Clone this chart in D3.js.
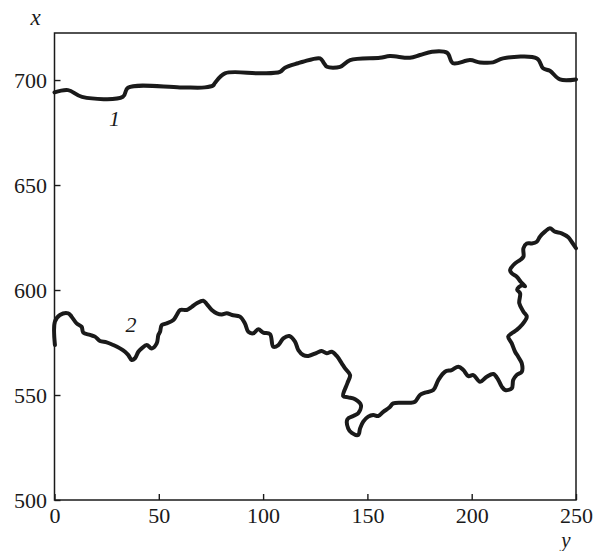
<!DOCTYPE html>
<html>
<head>
<meta charset="utf-8">
<script src="https://cdn.jsdelivr.net/npm/d3@7"></script>
<style>
  html, body { margin: 0; padding: 0; background: #fff; }
  svg { display: block; }
  text { font-family: "Liberation Serif", "DejaVu Serif", serif; fill: #1a1a1a; }
</style>
</head>
<body>
<svg id="chart" width="595" height="551"></svg>
<script>
// ---- data (horizontal variable "y", vertical variable "x") ----
const yTicks = [0, 50, 100, 150, 200, 250];
const xTicks = [500, 550, 600, 650, 700];

// curve 1
const curve1Y = [0, 6.5, 13.2, 32.8, 35.2, 60.2, 72.1, 76.0, 76.9, 81.7, 98.5, 108.1, 110.5, 116.7, 119.1, 127.3, 129.2, 130.6, 136.9, 141.7, 156.0, 160.8, 170.4, 175.2, 181.0, 188.2, 191.0, 199.2, 204.0, 210.2, 215.0, 231.3, 234.2, 237.5, 242.3, 250];
const curve1X = [694.1, 695.2, 692.0, 692.0, 696.3, 696.5, 696.5, 697.4, 698.6, 703.2, 703.2, 703.9, 705.9, 708.0, 708.7, 710.3, 708.0, 706.3, 706.3, 709.5, 710.6, 711.4, 710.6, 711.9, 713.5, 713.0, 708.0, 709.5, 708.4, 708.4, 710.3, 710.3, 705.6, 704.4, 700.3, 700.3];

// curve 2
const curve2Y = [0.2, 0.2, 2.6, 6.6, 8.2, 10.6, 13.0, 13.8, 17.0, 19.4, 21.8, 25.0, 28.2, 31.4, 33.8, 35.4, 37.0, 38.6, 40.2, 41.8, 44.2, 46.6, 49.0, 49.8, 50.6, 51.4, 53.8, 57.0, 58.6, 60.2, 63.4, 65.8, 68.2, 71.3, 73.0, 75.4, 77.8, 80.2, 82.6, 85.1, 88.9, 91.3, 92.9, 95.3, 97.7, 100.1, 103.3, 104.9, 107.3, 109.7, 112.6, 115.3, 116.9, 119.3, 121.7, 125.7, 128.1, 130.5, 132.9, 135.3, 137.7, 139.3, 141.7, 140.4, 138.4, 140.8, 144.1, 146.9, 145.6, 143.2, 140.4, 140.8, 142.5, 145.6, 146.5, 148.0, 150.4, 152.8, 155.2, 157.6, 160.5, 162.4, 167.2, 170.4, 172.8, 175.2, 177.6, 181.6, 184.0, 187.2, 190.4, 193.6, 196.0, 198.4, 200.8, 204.0, 207.2, 210.4, 212.8, 214.4, 216.0, 219.2, 219.9, 221.5, 224.0, 224.0, 222.3, 220.8, 219.2, 217.5, 219.2, 221.6, 224.0, 226.4, 224.8, 222.8, 223.2, 221.8, 224.0, 225.6, 223.6, 221.6, 219.2, 218.4, 220.8, 223.2, 224.8, 224.8, 226.4, 228.8, 231.2, 232.7, 235.1, 237.5, 239.9, 243.1, 246.3, 247.9, 250];
const curve2X = [573.8, 584.9, 588.1, 588.9, 587.3, 584.1, 582.5, 579.7, 578.6, 577.8, 575.7, 575.1, 573.8, 572.2, 570.6, 569.0, 566.7, 567.5, 570.6, 572.2, 573.8, 572.2, 574.6, 578.6, 580.1, 583.3, 584.1, 585.7, 588.1, 590.5, 590.5, 592.0, 593.7, 594.9, 593.3, 590.5, 588.9, 588.4, 588.9, 588.1, 587.3, 584.1, 580.1, 579.4, 581.3, 579.7, 579.0, 573.0, 573.8, 577.0, 578.1, 575.4, 571.4, 569.0, 568.6, 570.1, 571.0, 569.9, 570.6, 568.6, 565.1, 562.7, 559.5, 555.6, 549.5, 548.9, 548.0, 545.2, 541.3, 540.0, 538.4, 534.1, 532.0, 531.0, 534.1, 537.3, 539.7, 540.5, 540.0, 542.0, 544.0, 546.0, 546.3, 546.3, 546.8, 550.0, 551.1, 552.4, 557.1, 561.1, 561.9, 563.5, 561.9, 559.0, 559.5, 556.3, 558.7, 560.0, 557.1, 554.0, 552.4, 553.2, 557.1, 559.5, 561.1, 565.1, 568.2, 570.6, 574.6, 577.8, 579.4, 581.0, 583.3, 587.3, 589.7, 593.7, 598.4, 600.2, 602.2, 601.8, 603.8, 606.3, 608.0, 609.5, 612.7, 614.3, 615.9, 619.9, 622.2, 622.2, 623.0, 625.4, 627.8, 629.4, 627.8, 627.0, 625.1, 623.0, 619.9];

const curveLabels = ["1", "2"];
const labelY = [28.8, 36.7];
const labelX = [677.9, 580.1];

// ---- drawing ----
const svg = d3.select("#chart");
const mLeft = 54.5, mRight = 576, mTop = 33, mBottom = 500;

const sx = d3.scaleLinear().domain([0, 250]).range([mLeft, mRight]);
const sv = d3.scaleLinear().domain([500, 722.4]).range([mBottom, mTop]);

const ink = "#1a1a1a";

// bottom axis
const gB = svg.append("g").attr("transform", `translate(0,${mBottom})`)
  .call(d3.axisBottom(sx).tickValues(yTicks).tickSizeInner(-6).tickSizeOuter(0).tickPadding(7.5));
// left axis
const gL = svg.append("g").attr("transform", `translate(${mLeft},0)`)
  .call(d3.axisLeft(sv).tickValues(xTicks).tickSizeInner(-6).tickSizeOuter(0).tickPadding(7.5));

[gB, gL].forEach(g => {
  g.attr("font-family", null);
  g.select(".domain").remove();
  g.selectAll(".tick line").attr("stroke", ink).attr("stroke-width", 1.4);
  g.selectAll(".tick text").attr("font-size", 22).attr("fill", ink)
    .style("font-family", '"Liberation Serif", "DejaVu Serif", serif');
});

// frame
svg.append("rect")
  .attr("x", mLeft).attr("y", mTop)
  .attr("width", mRight - mLeft).attr("height", mBottom - mTop)
  .attr("fill", "none").attr("stroke", ink).attr("stroke-width", 1.5);

// curves
const line = d3.line().x(d => sx(d[0])).y(d => sv(d[1])).curve(d3.curveCatmullRom.alpha(0.5));
const series = [
  d3.zip(curve1Y, curve1X),
  d3.zip(curve2Y, curve2X)
];
svg.append("g").selectAll("path").data(series).join("path")
  .attr("d", line)
  .attr("fill", "none")
  .attr("stroke", ink)
  .attr("stroke-width", 4)
  .attr("stroke-linejoin", "round")
  .attr("stroke-linecap", "round");

// curve labels
svg.append("g").selectAll("text").data(curveLabels).join("text")
  .attr("x", (d, i) => sx(labelY[i]))
  .attr("y", (d, i) => sv(labelX[i]))
  .attr("text-anchor", "middle")
  .attr("font-size", 22)
  .attr("font-style", "italic")
  .text(d => d);

// axis titles
svg.append("text").attr("x", 35.5).attr("y", 25)
  .attr("text-anchor", "middle").attr("font-size", 23).attr("font-style", "italic").text("x");
svg.append("text").attr("x", 566).attr("y", 547)
  .attr("text-anchor", "middle").attr("font-size", 21).attr("font-style", "italic").text("y");
</script>
</body>
</html>
